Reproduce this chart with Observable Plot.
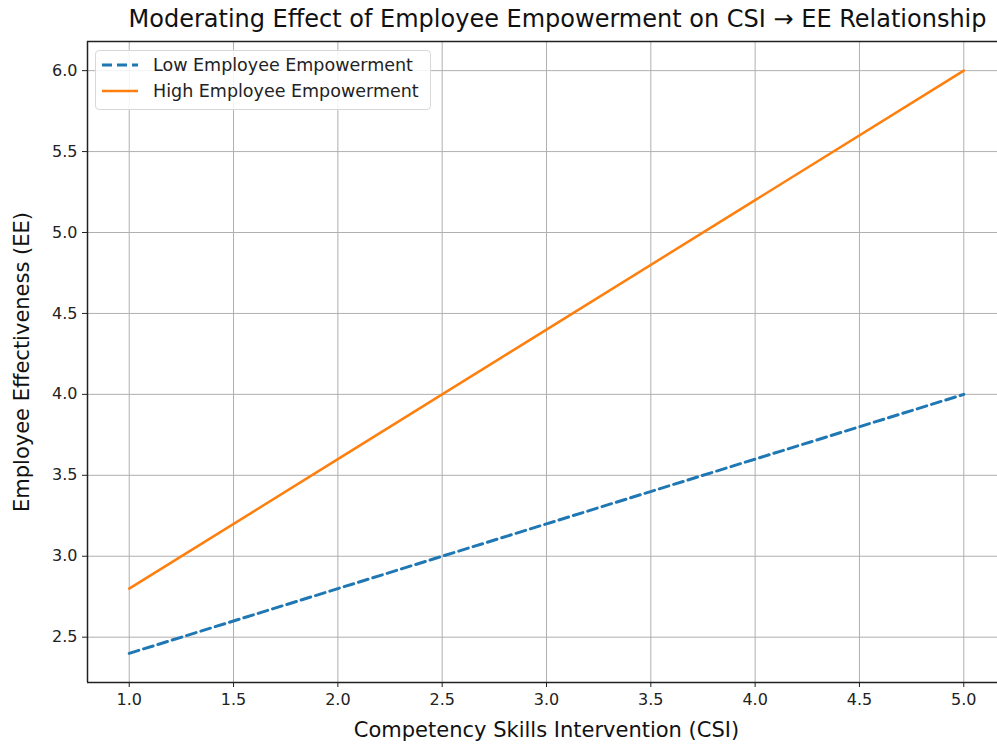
<!DOCTYPE html>
<html>
<head>
<meta charset="utf-8">
<script src="https://cdn.jsdelivr.net/npm/d3@7"></script>
<script src="https://cdn.jsdelivr.net/npm/@observablehq/plot@0.6"></script>
<style>
  html, body { margin: 0; padding: 0; overflow: hidden; background: #fff; }
  #wrap { position: relative; width: 997px; height: 746px; overflow: hidden; }
  #chart svg { max-width: none !important; }
  #legend { position: absolute; left: 95px; top: 50px; width: 334px; height: 58px;
    border: 1px solid #d8d8d8; border-radius: 4px; background: rgba(255,255,255,0.85);
    font-family: "DejaVu Sans", sans-serif; font-size: 17.5px; color: #222; }
  .row { position: absolute; left: 6px; display: flex; align-items: center; }
  .row svg { margin-right: 15px; }
</style>
</head>
<body>
<div id="wrap"><div id="chart"></div><div id="legend"></div></div>
<script>
const csi = [1, 2, 3, 4, 5];
const lowEE = [2.4, 2.8, 3.2, 3.6, 4.0];
const highEE = [2.8, 3.6, 4.4, 5.2, 6.0];
const seriesNames = ["Low Employee Empowerment", "High Employee Empowerment"];
const seriesColors = ["#1f77b4", "#ff7f0e"];
const xTicks = [1.0, 1.5, 2.0, 2.5, 3.0, 3.5, 4.0, 4.5, 5.0];
const yTicks = [2.5, 3.0, 3.5, 4.0, 4.5, 5.0, 5.5, 6.0];
const xDomain = [0.8, 5.2];
const yDomain = [2.22, 6.18];
const titleText = "Moderating Effect of Employee Empowerment on CSI \u2192 EE Relationship";
const xLabel = "Competency Skills Intervention (CSI)";
const yLabel = "Employee Effectiveness (EE)";

const lowData = csi.map((x, i) => ({x, y: lowEE[i]}));
const highData = csi.map((x, i) => ({x, y: highEE[i]}));
const fmt = d3.format(".1f");

const chart = Plot.plot({
  width: 1015,
  height: 746,
  marginLeft: 87,
  marginRight: 10,
  marginTop: 41,
  marginBottom: 64,
  style: {fontFamily: "DejaVu Sans, sans-serif", background: "#fff", overflow: "hidden", maxWidth: "none"},
  x: {domain: xDomain},
  y: {domain: yDomain},
  marks: [
    Plot.gridX(xTicks, {stroke: "#b0b0b0", strokeOpacity: 1, strokeWidth: 1}),
    Plot.gridY(yTicks, {stroke: "#b0b0b0", strokeOpacity: 1, strokeWidth: 1}),
    Plot.axisX(xTicks, {tickFormat: fmt, tickSize: 5, tickPadding: 6, fontSize: 16, label: null, stroke: "#222", fill: "#222"}),
    Plot.axisY(yTicks, {tickFormat: fmt, tickSize: 5, tickPadding: 5, fontSize: 16, label: null, stroke: "#222", fill: "#222"}),
    Plot.line(lowData, {x: "x", y: "y", stroke: seriesColors[0], strokeWidth: 3, strokeDasharray: "10,5"}),
    Plot.line(highData, {x: "x", y: "y", stroke: seriesColors[1], strokeWidth: 2.5}),
    Plot.ruleX([xDomain[0]], {stroke: "#222", strokeWidth: 1.5}),
    Plot.ruleY(yDomain, {stroke: "#222", strokeWidth: 1.5}),
    Plot.text([titleText], {frameAnchor: "top", lineAnchor: "middle", dy: -22, dx: 11, fontSize: 24, fill: "#111"}),
    Plot.text([xLabel], {frameAnchor: "bottom", lineAnchor: "middle", dy: 48, fontSize: 21, fill: "#111"}),
    Plot.text([yLabel], {frameAnchor: "left", textAnchor: "middle", lineAnchor: "middle", dx: -65, rotate: -90, fontSize: 21, fill: "#111"})
  ]
});
document.getElementById("chart").appendChild(chart);

const legend = document.getElementById("legend");
seriesNames.forEach((name, i) => {
  const row = document.createElement("div");
  row.className = "row";
  row.style.top = (i === 0 ? 4 : 30) + "px";
  const dash = i === 0 ? 'stroke-dasharray="10,5"' : "";
  row.innerHTML = `<svg width="36" height="20"><line x1="0" x2="36" y1="10" y2="10" stroke="${seriesColors[i]}" stroke-width="${i === 0 ? 3 : 2.5}" ${dash}/></svg><span>${name}</span>`;
  legend.appendChild(row);
});
</script>
</body>
</html>
